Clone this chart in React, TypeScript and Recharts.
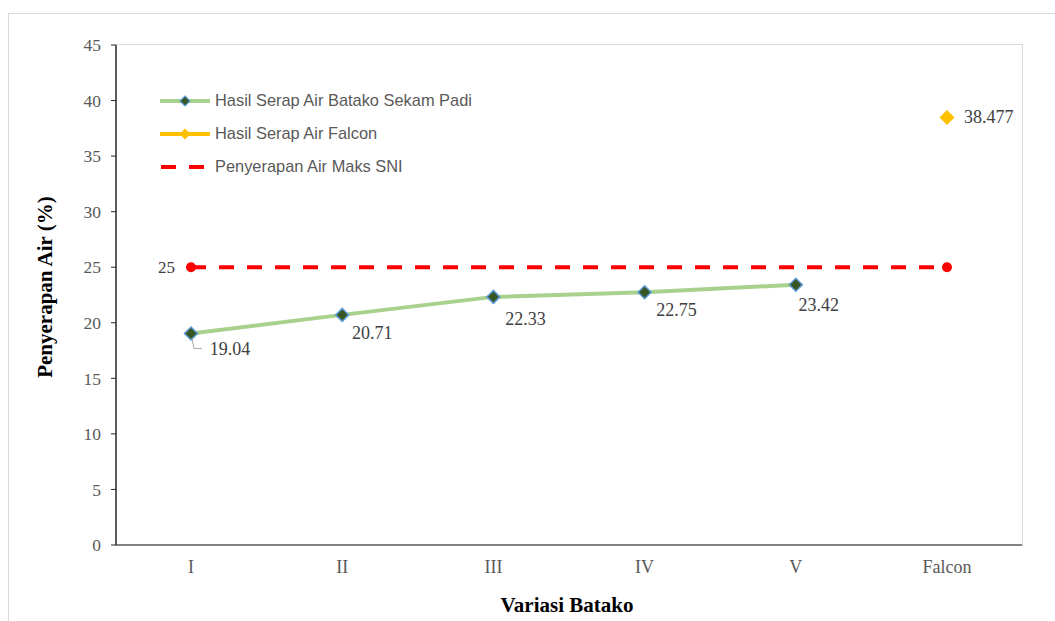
import React from "react";
import {
  ComposedChart,
  Line,
  XAxis,
  YAxis,
  Legend,
} from "recharts";

const categories = ["I", "II", "III", "IV", "V", "Falcon"];
const batakoValues = [19.04, 20.71, 22.33, 22.75, 23.42, null];
const falconValues = [null, null, null, null, null, 38.477];
const sniValues = [25, 25, 25, 25, 25, 25];
const yTicks = [0, 5, 10, 15, 20, 25, 30, 35, 40, 45];

const seriesNames = {
  batako: "Hasil Serap Air Batako Sekam Padi",
  falcon: "Hasil Serap Air Falcon",
  sni: "Penyerapan Air Maks SNI",
};

const data = categories.map((name, i) => ({
  name,
  batako: batakoValues[i],
  falcon: falconValues[i],
  sni: sniValues[i],
}));

// label offsets (dx, dy) from each point, as moved in the original
const batakoLabelOffsets = [
  [39, 16],
  [30, 18],
  [32, 22],
  [32, 18],
  [23, 20],
];

const GREEN = "#A9D18E";
const GREEN_FILL = "#375623";
const BLUE_EDGE = "#5B9BD5";
const YELLOW = "#FFC000";
const RED = "#FF0000";
const serif = '"Liberation Serif", "Times New Roman", serif';
const sans = '"Liberation Sans", Arial, sans-serif';

const diamond = (cx: number, cy: number, r: number) =>
  `M${cx},${cy - r}L${cx + r},${cy}L${cx},${cy + r}L${cx - r},${cy}Z`;

const BatakoDot = (props: any) => {
  const { cx, cy } = props;
  if (cx == null || cy == null) return <g />;
  return (
    <path d={diamond(cx, cy, 6.5)} fill={GREEN_FILL} stroke={BLUE_EDGE} strokeWidth={1.5} />
  );
};

const FalconDot = (props: any) => {
  const { cx, cy } = props;
  if (cx == null || cy == null) return <g />;
  return <path d={diamond(cx, cy, 7.5)} fill={YELLOW} />;
};

const SniDot = (props: any) => {
  const { cx, cy, index } = props;
  if (index !== 0 && index !== categories.length - 1) return <g />;
  return <circle cx={cx} cy={cy} r={5} fill={RED} />;
};

const BatakoLabel = (props: any) => {
  const { x, y, value, index } = props;
  if (value == null) return <g />;
  const [dx, dy] = batakoLabelOffsets[index] || [0, 18];
  return (
    <g>
      {index === 0 && (
        <polyline
          points={`${x + 1},${y + 5} ${x + 3},${y + 15} ${x + 11},${y + 15}`}
          fill="none"
          stroke="#a6a6a6"
          strokeWidth={1}
        />
      )}
      <text
        x={x + dx}
        y={y + dy}
        textAnchor="middle"
        dominantBaseline="central"
        fontFamily={serif}
        fontSize={18}
        fill="#404040"
      >
        {value.toFixed(2)}
      </text>
    </g>
  );
};

const FalconLabel = (props: any) => {
  const { x, y, value } = props;
  if (value == null) return <g />;
  return (
    <text x={x + 17} y={y} dominantBaseline="central" fontFamily={serif} fontSize={18} fill="#404040">
      {value}
    </text>
  );
};

const SniLabel = (props: any) => {
  const { x, y, value, index } = props;
  if (index !== 0) return <g />;
  return (
    <text x={x - 16} y={y} textAnchor="end" dominantBaseline="central" fontFamily={serif} fontSize={17} fill="#404040">
      {value}
    </text>
  );
};

const LegendContent = () => {
  const row = (icon: React.ReactNode, text: string) => (
    <div style={{ display: "flex", alignItems: "center", height: 33 }}>
      <svg width={52} height={14} style={{ marginRight: 4 }}>
        {icon}
      </svg>
      <span style={{ fontFamily: sans, fontSize: 16.4, color: "#595959" }}>{text}</span>
    </div>
  );
  return (
    <div>
      {row(
        <>
          <line x1={1} y1={7} x2={51} y2={7} stroke={GREEN} strokeWidth={4} />
          <path d={diamond(26, 7, 5)} fill={GREEN_FILL} stroke={BLUE_EDGE} strokeWidth={1.2} />
        </>,
        seriesNames.batako
      )}
      {row(
        <>
          <line x1={1} y1={7} x2={51} y2={7} stroke={YELLOW} strokeWidth={4} />
          <path d={diamond(26, 7, 5.5)} fill={YELLOW} />
        </>,
        seriesNames.falcon
      )}
      {row(
        <line x1={2} y1={7} x2={45} y2={7} stroke={RED} strokeWidth={4} strokeDasharray="15 13" />,
        seriesNames.sni
      )}
    </div>
  );
};

export default function App() {
  return (
    <div
      style={{
        position: "absolute",
        left: 0,
        top: 0,
        width: 1055,
        height: 621,
        overflow: "hidden",
        background: "#fff",
      }}
    >
      <div
        style={{
          position: "absolute",
          left: 8,
          top: 13,
          width: 1070,
          height: 640,
          border: "1px solid #d9d9d9",
        }}
      />
      <div
        style={{
          position: "absolute",
          left: 116,
          top: 44,
          width: 906,
          height: 501,
          borderTop: "1px solid #d9d9d9",
          borderRight: "1px solid #d9d9d9",
        }}
      />
      <ComposedChart
        width={1055}
        height={621}
        data={data}
        margin={{ top: 45, right: 33, left: 56, bottom: 46 }}
      >
        <XAxis
          dataKey="name"
          padding={{ left: 75, right: 75 }}
          axisLine={{ stroke: "#595959", strokeWidth: 1.5 }}
          tickLine={false}
          tickSize={0}
          tickMargin={15}
          height={30}
          tick={{ fontFamily: serif, fontSize: 18, fill: "#595959" }}
        />
        <YAxis
          type="number"
          domain={[0, 45]}
          ticks={yTicks}
          width={60}
          axisLine={{ stroke: "#262626", strokeWidth: 1.5 }}
          tickLine={{ stroke: "#262626" }}
          tickSize={5}
          tickMargin={10}
          tick={{ fontFamily: serif, fontSize: 17.5, fill: "#595959" }}
        />
        <Legend
          verticalAlign="middle"
          align="center"
          layout="vertical"
          content={<LegendContent />}
          wrapperStyle={{ position: "absolute", top: 84, left: 159, width: 360 }}
        />
        <Line
          dataKey="sni"
          name={seriesNames.sni}
          stroke={RED}
          strokeWidth={4}
          strokeDasharray="15 13"
          dot={<SniDot />}
          activeDot={false}
          label={<SniLabel />}
          isAnimationActive={false}
        />
        <Line
          dataKey="batako"
          name={seriesNames.batako}
          stroke={GREEN}
          strokeWidth={4}
          dot={<BatakoDot />}
          activeDot={false}
          label={<BatakoLabel />}
          isAnimationActive={false}
        />
        <Line
          dataKey="falcon"
          name={seriesNames.falcon}
          stroke={YELLOW}
          strokeWidth={3}
          dot={<FalconDot />}
          activeDot={false}
          label={<FalconLabel />}
          isAnimationActive={false}
        />
      </ComposedChart>
      <div
        style={{
          position: "absolute",
          left: 45,
          top: 287,
          transform: "translate(-50%, -50%) rotate(-90deg)",
          fontFamily: serif,
          fontWeight: "bold",
          fontSize: 21,
          color: "#000",
          whiteSpace: "nowrap",
        }}
      >
        Penyerapan Air (%)
      </div>
      <div
        style={{
          position: "absolute",
          left: 567,
          top: 605,
          transform: "translate(-50%, -50%)",
          fontFamily: serif,
          fontWeight: "bold",
          fontSize: 21,
          color: "#000",
          whiteSpace: "nowrap",
        }}
      >
        Variasi Batako
      </div>
    </div>
  );
}
